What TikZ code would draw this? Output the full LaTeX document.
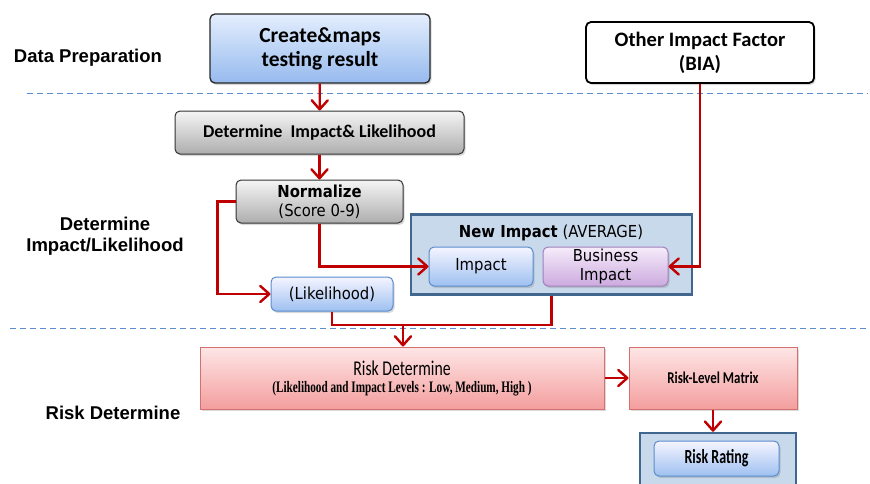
\documentclass[tikz,border=0pt]{standalone}
\usepackage{fontspec}
\setmainfont{Carlito}
\newfontfamily\lblfont{Liberation Sans}
\newfontfamily\tahfont{DejaVu Sans Condensed}
\newfontfamily\serfont{Liberation Serif}
\usetikzlibrary{arrows.meta,shadows}

\definecolor{flowred}{HTML}{C00000}
\definecolor{dashblue}{HTML}{5B8DCF}
\definecolor{frameblue}{HTML}{41678F}
\definecolor{framefill}{HTML}{C9D9EC}

\newcommand{\hsq}[2]{\scalebox{#1}[1]{#2}}

\tikzset{
  x=1pt, y=-1pt,
  box/.style={draw, rounded corners=5pt, line width=1pt, align=center,
    inner sep=0pt, drop shadow={opacity=0.3, shadow xshift=1.5pt, shadow yshift=-2pt}},
  bluebox/.style={box, top color=blue!4!white, bottom color={rgb,255:red,158;green,192;blue,240}, draw={rgb,255:red,90;green,140;blue,205}},
  greybox/.style={box, top color=white!96!black, bottom color=white!68!black, draw=black!80},
  purplebox/.style={box, top color={rgb,255:red,246;green,236;blue,250}, bottom color={rgb,255:red,204;green,170;blue,222}, draw={rgb,255:red,160;green,128;blue,188}},
  redbox/.style={draw={rgb,255:red,212;green,112;blue,112}, line width=1pt, align=center, inner sep=0pt,
    top color={rgb,255:red,254;green,230;blue,230}, bottom color={rgb,255:red,244;green,158;blue,158},
    drop shadow={opacity=0.3, shadow xshift=1.5pt, shadow yshift=-2pt}},
  frame/.style={draw=frameblue, fill=framefill, line width=2.5pt, inner sep=0pt},
  sect/.style={font=\lblfont\bfseries\fontsize{18.5}{21}\selectfont, align=center},
  tah/.style={font=\tahfont\fontsize{16.5}{19}\selectfont},
  flow/.style={draw=flowred, line width=2.2pt,
    -{Straight Barb[length=9pt, width=16pt, line width=2.4pt, round]}},
  link/.style={draw=flowred, line width=2.2pt},
  sepline/.style={draw=dashblue, line width=1pt, dash pattern=on 6pt off 4pt},
}

\begin{document}
\begin{tikzpicture}
\useasboundingbox (0,0) rectangle (870,483);

% section separators
\coordinate (s1a) at (27,93);  \coordinate (s1b) at (868,93);
\coordinate (s2a) at (10,328); \coordinate (s2b) at (866,328);
\draw[sepline] (s1a) -- (s1b);
\draw[sepline] (s2a) -- (s2b);

% section labels
\node[sect] (lprep) at (88,58) {Data Preparation};
\node[sect] (ldet) at (105,236) {Determine\\Impact/Likelihood};
\node[sect] (lrisk) at (113,413) {Risk Determine};

% data preparation
\node[bluebox, draw=black!85, line width=1.3pt, minimum width=220, minimum height=69,
  top color={rgb,255:red,228;green,238;blue,253}, bottom color={rgb,255:red,150;green,186;blue,238},
  font=\bfseries\fontsize{21.5}{24}\selectfont] (create) at (320,48.5) {Create\&maps\\testing result};
\node[box, fill=white, draw=black, line width=1.8pt, minimum width=228, minimum height=61,
  font=\bfseries\fontsize{20.5}{24}\selectfont] (other) at (700,52.5) {Other Impact Factor\\(BIA)};

% determine impact / likelihood
\node[greybox, minimum width=289, minimum height=43, font=\bfseries\fontsize{18}{20}\selectfont]
  (det) at (319.5,132.5) {Determine\ \ Impact\& Likelihood};
\node[greybox, minimum width=167, minimum height=43, tah]
  (norm) at (319.5,201.5) {\textbf{Normalize}\\(Score 0-9)};

\node[frame, minimum width=281, minimum height=80] (newimp) at (551.5,254.5) {};
\node[tah, inner sep=0pt] (newlbl) at (551,233) {\textbf{New Impact} (AVERAGE)};
\node[bluebox, minimum width=104, minimum height=39, tah] (imp) at (481,266.5) {Impact};
\node[purplebox, minimum width=125, minimum height=39, tah] (bus) at (605.5,266.5) {Business\\Impact};
\node[bluebox, minimum width=122, minimum height=34, tah] (lik) at (332,294) {(Likelihood)};

% risk determine
\node[redbox, minimum width=404, minimum height=62] (risk) at (402,378)
  {\hsq{0.75}{\fontsize{21}{22}\selectfont Risk Determine}\\[5pt]
   \hsq{0.70}{\serfont\bfseries\fontsize{16}{17}\selectfont (Likelihood and Impact Levels : Low, Medium, High )}};
\node[redbox, minimum width=168, minimum height=62, font=\bfseries\fontsize{16.5}{18}\selectfont]
  (matrix) at (713,378) {\hsq{0.78}{Risk-Level Matrix}};

\node[frame, minimum width=156, minimum height=57] (rout) at (718,461.5) {};
\node[bluebox, minimum width=125, minimum height=35, font=\bfseries\fontsize{20}{20}\selectfont]
  (rating) at (716.5,458.5) {\hsq{0.7}{Risk Rating}};

% connectors
\draw[flow] (create) -- (det);
\draw[flow] (det) -- (norm);
\draw[flow] (norm.west) -- ++(-18,0) |- (lik.west);
\draw[flow] (norm.south) |- (imp.west);
\draw[flow] (other.south) |- (bus.east);
\coordinate (merge) at (403,325);
\draw[link] (lik.south) |- (merge);
\draw[link] (newimp.south) |- (merge);
\draw[flow] (merge) -- (merge |- risk.north);
\draw[flow] (risk) -- (matrix);
\draw[flow] (matrix.south) -- (matrix.south |- rout.north);
\end{tikzpicture}
\end{document}
